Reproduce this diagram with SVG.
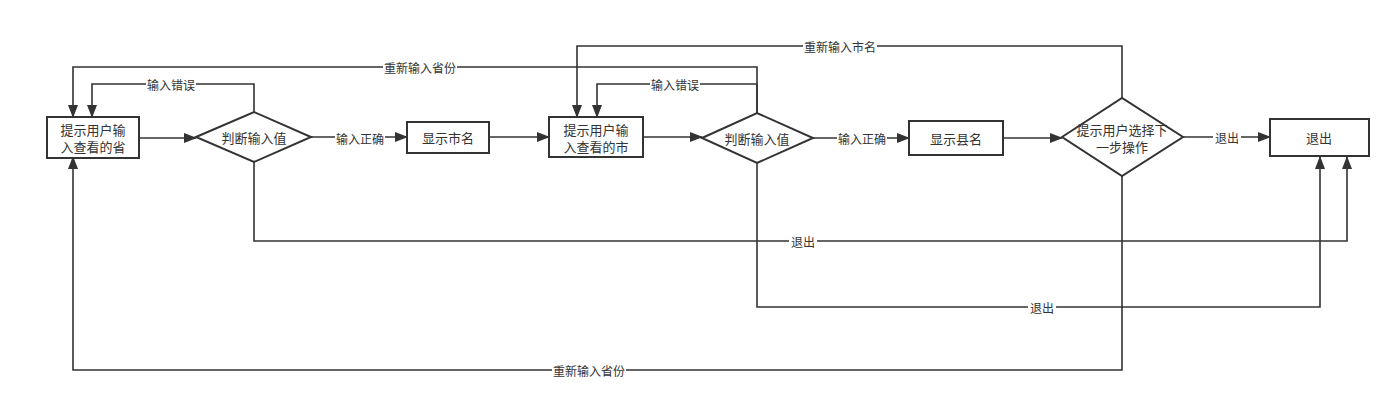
<svg xmlns="http://www.w3.org/2000/svg" width="1400" height="400" viewBox="0 0 1400 400">
<defs>
<marker id="arr" markerUnits="userSpaceOnUse" markerWidth="14" markerHeight="10" refX="12" refY="5" orient="auto">
<path d="M0,0 L13,5 L0,10 z" fill="#333"/>
</marker>
<style>
.n{fill:#fff;stroke:#333;stroke-width:2}
.t{font-family:"Noto Sans CJK SC","Liberation Sans",sans-serif;font-size:13px;fill:#333;text-anchor:middle;dominant-baseline:central}
.c{fill:none;stroke:#333;stroke-width:1.6}
.lb{fill:#fff}
.l{font-family:"Noto Sans CJK SC","Liberation Sans",sans-serif;font-size:12px;fill:#333;text-anchor:middle;dominant-baseline:central}
</style>
</defs>
<rect width="1400" height="400" fill="#fff"/>
<g id="connectors">
<path class="c" d="M139,138 L196,138" marker-end="url(#arr)"/>
<path class="c" d="M311,137 L407,137" marker-end="url(#arr)"/>
<path class="c" d="M489,137 L549,137" marker-end="url(#arr)"/>
<path class="c" d="M643,137 L702,137" marker-end="url(#arr)"/>
<path class="c" d="M813,138 L909,138" marker-end="url(#arr)"/>
<path class="c" d="M1003,138 L1062,138" marker-end="url(#arr)"/>
<path class="c" d="M1183,137 L1270,137" marker-end="url(#arr)"/>
<path class="c" d="M254,112 V84 H92 V117" marker-end="url(#arr)"/>
<path class="c" d="M757,113 V67 H73 V117" marker-end="url(#arr)"/>
<path class="c" d="M757,113 V84 H597 V117" marker-end="url(#arr)"/>
<path class="c" d="M1122,98 V46 H577 V117" marker-end="url(#arr)"/>
<path class="c" d="M254,162 V241 H1347 V157" marker-end="url(#arr)"/>
<path class="c" d="M757,163 V307 H1320 V157" marker-end="url(#arr)"/>
<path class="c" d="M1122,176 V370 H73 V157" marker-end="url(#arr)"/>
<g>
<rect class="lb" x="335" y="130" width="50" height="16"/><text class="l" x="360" y="138">输入正确</text>
<rect class="lb" x="837" y="130" width="50" height="16"/><text class="l" x="862" y="138">输入正确</text>
<rect class="lb" x="1213" y="129" width="28" height="16"/><text class="l" x="1227" y="137">退出</text>
<rect class="lb" x="146" y="76" width="50" height="16"/><text class="l" x="171" y="84">输入错误</text>
<rect class="lb" x="650" y="76" width="50" height="16"/><text class="l" x="675" y="84">输入错误</text>
<rect class="lb" x="383" y="59" width="74" height="16"/><text class="l" x="420" y="67">重新输入省份</text>
<rect class="lb" x="803" y="38" width="74" height="16"/><text class="l" x="840" y="46">重新输入市名</text>
<rect class="lb" x="789" y="233" width="28" height="16"/><text class="l" x="803" y="241">退出</text>
<rect class="lb" x="1028" y="299" width="28" height="16"/><text class="l" x="1042" y="307">退出</text>
<rect class="lb" x="552" y="362" width="74" height="16"/><text class="l" x="589" y="370">重新输入省份</text>
</g>
</g>
<g id="n1"><rect class="n" x="47" y="117" width="92" height="41"/><text class="t" x="93" y="129">提示用户输</text><text class="t" x="93" y="146">入查看的省</text></g>
<g id="d1"><polygon class="n" points="196,137 254,112 311,137 254,162"/><text class="t" x="254" y="137">判断输入值</text></g>
<g id="n2"><rect class="n" x="407" y="122" width="82" height="31"/><text class="t" x="448" y="137">显示市名</text></g>
<g id="n3"><rect class="n" x="549" y="117" width="94" height="40"/><text class="t" x="596" y="129">提示用户输</text><text class="t" x="596" y="146">入查看的市</text></g>
<g id="d2"><polygon class="n" points="702,138 757,113 813,138 757,163"/><text class="t" x="757" y="138">判断输入值</text></g>
<g id="n4"><rect class="n" x="909" y="121" width="94" height="34"/><text class="t" x="956" y="138">显示县名</text></g>
<g id="d3"><polygon class="n" points="1062,137 1122,98 1183,137 1122,176"/><text class="t" x="1122" y="129">提示用户选择下</text><text class="t" x="1122" y="146">一步操作</text></g>
<g id="n5"><rect class="n" x="1270" y="119" width="99" height="37"/><text class="t" x="1319" y="137">退出</text></g>
</svg>
